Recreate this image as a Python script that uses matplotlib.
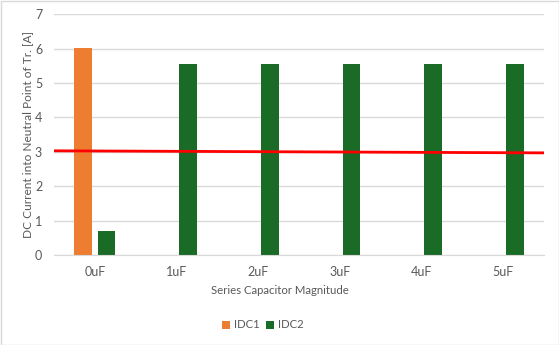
import matplotlib
matplotlib.use("Agg")
import matplotlib.pyplot as plt
import numpy as np

categories = ["0uF", "1uF", "2uF", "3uF", "4uF", "5uF"]
idc1 = [6.02, 0, 0, 0, 0, 0]
idc2 = [0.70, 5.55, 5.55, 5.55, 5.55, 5.55]
ref_line = [3.03, 2.97]  # red line values at left and right edges

plt.rcParams['font.family'] = ['Lato', 'DejaVu Sans']
text_color = "#595959"

fig = plt.figure(figsize=(5.59, 3.45), dpi=100)
ax = fig.add_axes([54/559, 1 - 255/345, 490/559, (255-14.3)/345])

x = np.arange(len(categories))
w = 0.22
ax.bar(x - 0.143, idc1, width=w, color="#ED7D31", label="IDC1", zorder=2)
ax.bar(x + 0.143, idc2, width=w, color="#1A6B26", label="IDC2", zorder=2)
ax.plot([-0.5, len(categories) - 0.5], ref_line, color="#FF0000", lw=2, zorder=3)

ax.set_xlim(-0.5, len(categories) - 0.5)
ax.set_ylim(0, 7)
ax.set_yticks(range(0, 8))
ax.set_xticks(x)
ax.set_xticklabels(categories)
ax.grid(axis="y", color="#D9D9D9", lw=1, zorder=0)
ax.set_axisbelow(True)
for s in ["top", "right", "left"]:
    ax.spines[s].set_visible(False)
ax.spines["bottom"].set_color("#D9D9D9")
ax.tick_params(axis="both", length=0, colors=text_color, labelsize=9)
ax.tick_params(axis="y", pad=8.5)
ax.tick_params(axis="x", pad=8)
ax.set_ylabel("DC Current into Neutral Point of Tr. [A]", color=text_color, fontsize=8.6, labelpad=1)
fig.text(0.5, 1 - 291/345, "Series Capacitor Magnitude", color=text_color, fontsize=8.2,
         ha="center", va="center")

handles = ax.get_legend_handles_labels()
fig.legend(handles[0], handles[1], loc="center", bbox_to_anchor=(263/559, 1 - 325/345), ncol=2,
           frameon=False, fontsize=8.2, labelcolor=text_color, handlelength=0.7, handleheight=0.7,
           handletextpad=0.3, columnspacing=0.6)

fig.patches.append(plt.Rectangle((0.5/559, 0.5/345), 1 - 1/559, 1 - 1/345, transform=fig.transFigure,
                                 fill=False, edgecolor="#D9D9D9", lw=1))
fig.savefig("out.png", dpi=100, facecolor="white")
